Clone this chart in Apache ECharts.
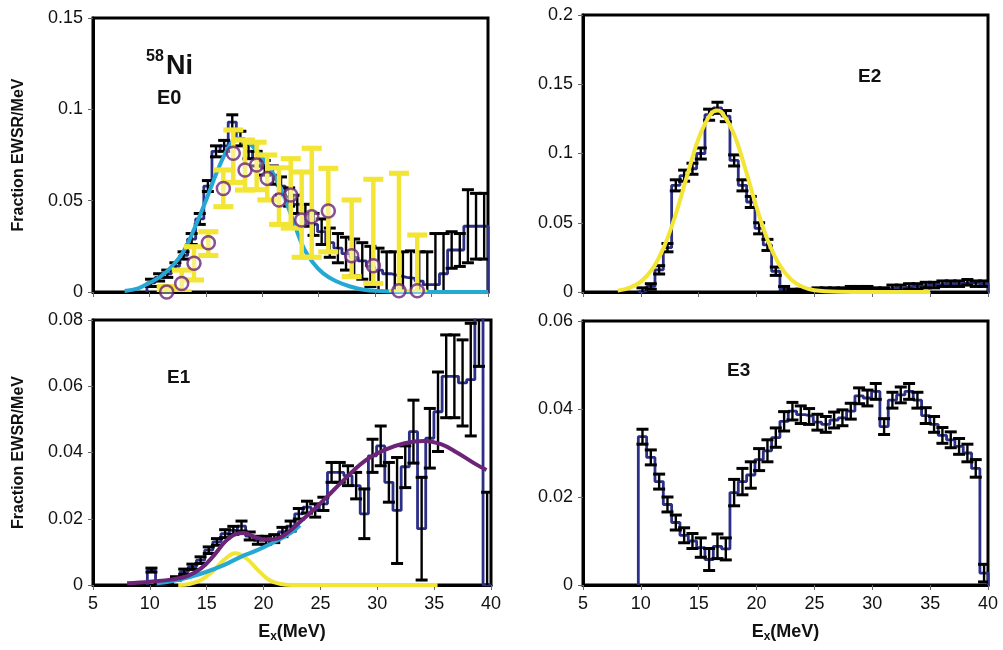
<!DOCTYPE html>
<html>
<head>
<meta charset="utf-8">
<script src="https://cdn.jsdelivr.net/npm/echarts@6/dist/echarts.min.js"></script>
<style>html,body{margin:0;padding:0;background:#fff}#main{width:1003px;height:650px}</style>
</head>
<body>
<div id="main"></div>
<script>
var chart = echarts.init(document.getElementById('main'));

// bin centres (MeV), shared by all four multipoles
var binWidth = 0.72;
var binCenters = [10.14, 10.86, 11.58, 12.30, 13.02, 13.74, 14.46, 15.18, 15.90, 16.62,
  17.34, 18.06, 18.78, 19.50, 20.22, 20.94, 21.66, 22.38, 23.10, 23.82,
  24.54, 25.26, 25.98, 26.70, 27.42, 28.14, 28.86, 29.58, 30.30, 31.02,
  31.74, 32.46, 33.18, 33.90, 34.62, 35.34, 36.06, 36.78, 37.50, 38.22,
  38.94, 39.66];

// E0
var e0Vals = [0.005, 0.008, 0.010, 0.014, 0.020, 0.029, 0.040, 0.058, 0.077, 0.080,
  0.093, 0.084, 0.077, 0.073, 0.068, 0.064, 0.058, 0.052, 0.048, 0.042,
  0.037, 0.033, 0.027, 0.024, 0.021, 0.019, 0.017, 0.014, 0.012, 0.010,
  0.009, 0.008, 0.0075, 0.006, 0.004, 0.004, 0.010, 0.023, 0.023, 0.036,
  0.036, 0.036];
var e0Errs = [0.002, 0.002, 0.002, 0.002, 0.002, 0.003, 0.003, 0.003, 0.003, 0.003,
  0.004, 0.004, 0.004, 0.004, 0.004, 0.005, 0.005, 0.005, 0.005, 0.006,
  0.006, 0.007, 0.008, 0.008, 0.009, 0.010, 0.010, 0.011, 0.012, 0.012,
  0.013, 0.014, 0.015, 0.016, 0.018, 0.028, 0.022, 0.010, 0.009, 0.020,
  0.018, 0.018];
// second E0 data set (yellow bars, open circles)
var e0bE = [11.53, 12.86, 13.95, 15.22, 16.55, 17.43, 18.47, 19.50, 20.44, 21.48,
  22.52, 23.49, 24.38, 25.85, 27.92, 29.84, 32.11, 33.73];
var e0bVals = [0.000, 0.0047, 0.0157, 0.027, 0.0567, 0.076, 0.0668, 0.0695, 0.0622, 0.0504,
  0.0531, 0.0394, 0.0412, 0.0443, 0.0199, 0.0144, 0.0007, 0.0007];
var e0bLow = [0.000, 0.000, 0.0066, 0.020, 0.0467, 0.060, 0.0558, 0.056, 0.0504, 0.037,
  0.035, 0.019, 0.019, 0.022, 0.0084, 0.0047, 0.000, 0.000];
var e0bHigh = [0.003, 0.012, 0.0248, 0.033, 0.0668, 0.0887, 0.0832, 0.082, 0.075, 0.068,
  0.073, 0.0657, 0.0787, 0.0677, 0.0504, 0.0617, 0.065, 0.0312];
var e0FitE = [7.8, 9, 10, 11, 12, 13, 14, 15, 16, 17, 17.8, 18.5, 19.5, 20.5, 21.3,
  22.5, 23.6, 24.5, 25.4, 26.5, 27.8, 29, 30.4, 32, 35, 40];
var e0Fit = [0.0005, 0.002, 0.005, 0.0085, 0.014, 0.022, 0.035, 0.050, 0.066, 0.079, 0.084,
  0.083, 0.0775, 0.069, 0.061, 0.043, 0.025, 0.016, 0.0102, 0.006, 0.003, 0.0012,
  0.0005, 0.0001, 0, 0];

// E2
var e2Vals = [0.001, 0.004, 0.016, 0.032, 0.077, 0.084, 0.089, 0.100, 0.128, 0.133,
  0.127, 0.095, 0.077, 0.065, 0.046, 0.034, 0.015, 0.002, 0.001, 0.001,
  0.001, 0.002, 0.002, 0.002, 0.002, 0.003, 0.003, 0.003, 0.002, 0.002,
  0.003, 0.003, 0.004, 0.004, 0.005, 0.005, 0.006, 0.006, 0.006, 0.007,
  0.006, 0.006];
var e2Errs = [0.002, 0.002, 0.003, 0.003, 0.004, 0.004, 0.004, 0.004, 0.004, 0.004,
  0.004, 0.004, 0.004, 0.004, 0.004, 0.004, 0.003, 0.002, 0.001, 0.001,
  0.001, 0.001, 0.001, 0.001, 0.001, 0.001, 0.001, 0.001, 0.001, 0.001,
  0.002, 0.002, 0.002, 0.002, 0.002, 0.002, 0.002, 0.002, 0.002, 0.002,
  0.002, 0.002];
var e2FitE = [8, 9, 10, 11, 12, 13, 14, 15, 16, 16.6, 17, 18, 19, 20, 21, 22, 23, 24, 25, 27, 30, 35];
var e2Fit = [0.001, 0.003, 0.0075, 0.0167, 0.0326, 0.0558, 0.084, 0.111, 0.128, 0.131,
  0.1296, 0.115, 0.0897, 0.0612, 0.0367, 0.0193, 0.0088, 0.0036, 0.0013, 0.0002, 0, 0];

// E1
var e1Vals = [0.0045, 0.0003, 0.0005, 0.002, 0.004, 0.0055, 0.0075, 0.0105, 0.013, 0.0155,
  0.0165, 0.0178, 0.0148, 0.0135, 0.0135, 0.014, 0.016, 0.0178, 0.0215, 0.0235,
  0.0225, 0.0245, 0.034, 0.034, 0.033, 0.030, 0.0215, 0.039, 0.042, 0.031,
  0.0225, 0.0357, 0.0463, 0.017, 0.0443, 0.0523, 0.063, 0.063, 0.061, 0.062,
  0.095, 0.0];
var e1Errs = [0.0006, 0.0003, 0.0003, 0.0005, 0.0008, 0.0008, 0.001, 0.001, 0.001, 0.0012,
  0.0012, 0.0015, 0.0012, 0.0012, 0.0012, 0.0012, 0.0014, 0.0015, 0.0016, 0.0018,
  0.002, 0.002, 0.003, 0.003, 0.003, 0.004, 0.0075, 0.005, 0.006, 0.006,
  0.016, 0.0063, 0.0095, 0.0155, 0.009, 0.012, 0.0125, 0.0125, 0.013, 0.017,
  0.029, 0.028];
var e1TotE = [8, 10, 12, 13.3, 14.5, 15.6, 16.6, 17.5, 18.3, 19.2, 20.2, 21.2, 22.2, 23.2,
  24.5, 25.6, 27, 28.8, 30.6, 32.4, 34.1, 35.6, 37, 38.5, 39.6];
var e1Tot = [0.0005, 0.001, 0.0017, 0.0027, 0.005, 0.0088, 0.013, 0.0153, 0.0157, 0.0145,
  0.0137, 0.014, 0.016, 0.019, 0.023, 0.0267, 0.0315, 0.0372, 0.0407, 0.0428, 0.0435,
  0.0425, 0.040, 0.0368, 0.0347];
var e1BroadE = [10.6, 12, 13.6, 15, 16.5, 18, 19.5, 21.3, 22.5, 23.2];
var e1Broad = [0.0005, 0.0012, 0.0025, 0.004, 0.006, 0.0085, 0.0106, 0.0136, 0.016, 0.018];
var e1PeakE = [12.5, 13.5, 14.5, 15.5, 16.5, 17.5, 18.5, 19.5, 20.5, 21.5, 22.5, 35.3];
var e1Peak = [0, 0.0003, 0.0015, 0.004, 0.0075, 0.0096, 0.008, 0.0045, 0.0015, 0.0003, 0, 0];

// E3
var e3Vals = [0.0337, 0.029, 0.0235, 0.0183, 0.0142, 0.0113, 0.010, 0.0085, 0.0058, 0.0088,
  0.0082, 0.021, 0.0235, 0.025, 0.0285, 0.0305, 0.0335, 0.0372, 0.0395, 0.0387,
  0.0383, 0.037, 0.0365, 0.0375, 0.038, 0.0395, 0.043, 0.0425, 0.044, 0.036,
  0.042, 0.0432, 0.044, 0.042, 0.0385, 0.0365, 0.034, 0.033, 0.0315, 0.030,
  0.0265, 0.0027];
var e3Errs = [0.0017, 0.0017, 0.0017, 0.0017, 0.0017, 0.0017, 0.0017, 0.0022, 0.0025, 0.0028,
  0.0025, 0.003, 0.003, 0.003, 0.0025, 0.0025, 0.0022, 0.0022, 0.002, 0.002,
  0.0018, 0.0018, 0.0018, 0.0018, 0.0018, 0.0018, 0.0018, 0.0018, 0.0018, 0.0018,
  0.0018, 0.0018, 0.0018, 0.0018, 0.0018, 0.0018, 0.0018, 0.0018, 0.0018, 0.002,
  0.002, 0.002];

var navy = '#2b2f86', cyan = '#25a8d4', yellow = '#f3e535', purple = '#6c2477';
var tickFont = 'Liberation Sans';

function histData(vals) {
  var d = [[binCenters[0] - binWidth / 2, 0]];
  binCenters.forEach(function (c, i) {
    d.push([c - binWidth / 2, vals[i]], [c + binWidth / 2, vals[i]]);
  });
  d.push([binCenters[binCenters.length - 1] + binWidth / 2, 0]);
  return d;
}
function pairs(xs, ys) {
  return xs.map(function (x, i) { return [x, ys[i]]; });
}

function histSeries(idx, vals) {
  return {
    type: 'line', xAxisIndex: idx, yAxisIndex: idx, data: histData(vals),
    symbol: 'none', z: 2, animation: false,
    lineStyle: { color: navy, width: 2.8 }
  };
}
function errSeries(idx, xs, lows, highs, color, lw, cap, z) {
  return {
    type: 'custom', xAxisIndex: idx, yAxisIndex: idx, clip: true, z: z || 3, animation: false,
    data: xs.map(function (x, i) { return [x, lows[i], highs[i]]; }),
    encode: { x: 0, y: [1, 2] },
    renderItem: function (params, api) {
      var lo = api.coord([api.value(0), api.value(1)]);
      var hi = api.coord([api.value(0), api.value(2)]);
      var st = { stroke: color, lineWidth: lw };
      var capSt = { stroke: color, lineWidth: lw + 0.6 };
      return {
        type: 'group', children: [
          { type: 'line', shape: { x1: lo[0], y1: lo[1], x2: hi[0], y2: hi[1] }, style: st },
          { type: 'line', shape: { x1: lo[0] - cap, y1: lo[1], x2: lo[0] + cap, y2: lo[1] }, style: capSt },
          { type: 'line', shape: { x1: hi[0] - cap, y1: hi[1], x2: hi[0] + cap, y2: hi[1] }, style: capSt }
        ]
      };
    }
  };
}
function blackErr(idx, vals, errs) {
  return errSeries(idx, binCenters,
    vals.map(function (v, i) { return v - errs[i]; }),
    vals.map(function (v, i) { return v + errs[i]; }), '#000', 2.4, 6, 3);
}
function curve(idx, xs, ys, color, z) {
  return {
    type: 'line', xAxisIndex: idx, yAxisIndex: idx, data: pairs(xs, ys), smooth: 0.4,
    symbol: 'none', z: z, animation: false, lineStyle: { color: color, width: 4 }
  };
}

var grids = [
  { left: 93, top: 18, width: 395, height: 274 },
  { left: 583, top: 15, width: 405, height: 277 },
  { left: 93, top: 320, width: 398, height: 265 },
  { left: 583, top: 321, width: 405, height: 264 }
].map(function (g) {
  return Object.assign({ show: true, borderColor: '#000', borderWidth: 3, outerBoundsMode: 'none' }, g);
});

var yMax = [0.15, 0.2, 0.08, 0.06], yStep = [0.05, 0.05, 0.02, 0.02];

var xAxes = [0, 1, 2, 3].map(function (i) {
  var bottom = i >= 2;
  return {
    type: 'value', gridIndex: i, min: 5, max: 40, interval: 5,
    axisLine: { show: true, lineStyle: { color: '#000', width: 3 } },
    axisTick: { show: true, length: 5, lineStyle: { color: '#666', width: 1 } },
    axisLabel: { show: bottom, margin: 10, color: '#111', fontSize: 18, fontFamily: tickFont },
    splitLine: { show: false },
    name: bottom ? '{a|E}{b|x}{a|(MeV)}' : '',
    nameLocation: 'middle', nameGap: 36,
    nameTextStyle: {
      rich: {
        a: { fontSize: 18, fontWeight: 'bold', fontFamily: 'Liberation Sans', color: '#111' },
        b: { fontSize: 12, fontWeight: 'bold', fontFamily: 'Liberation Sans', color: '#111', padding: [10, 0, 0, 0] }
      }
    }
  };
});
var yAxes = [0, 1, 2, 3].map(function (i) {
  var left = (i === 0 || i === 2);
  return {
    type: 'value', gridIndex: i, min: 0, max: yMax[i], interval: yStep[i],
    axisLine: { show: true, lineStyle: { color: '#000', width: 3 } },
    axisTick: { show: true, length: 5, lineStyle: { color: '#666', width: 1 } },
    axisLabel: { margin: 10, color: '#111', fontSize: 18, fontFamily: tickFont },
    splitLine: { show: false },
    name: left ? 'Fraction EWSR/MeV' : '',
    nameLocation: 'middle', nameGap: 66,
    nameTextStyle: { fontSize: 16, fontWeight: 'bold', fontFamily: 'Liberation Sans', color: '#111' }
  };
});

var series = [
  // E0
  histSeries(0, e0Vals),
  blackErr(0, e0Vals, e0Errs),
  curve(0, e0FitE, e0Fit, cyan, 4),
  errSeries(0, e0bE, e0bLow, e0bHigh, yellow, 4.5, 10, 5),
  {
    type: 'scatter', xAxisIndex: 0, yAxisIndex: 0, data: pairs(e0bE, e0bVals), z: 6,
    symbol: 'circle', symbolSize: 13, animation: false, clip: false,
    itemStyle: { color: 'rgba(255,255,255,0.5)', borderColor: purple, borderWidth: 2.5 }
  },
  // E2
  histSeries(1, e2Vals),
  blackErr(1, e2Vals, e2Errs),
  curve(1, e2FitE, e2Fit, yellow, 5),
  // E1
  histSeries(2, e1Vals),
  blackErr(2, e1Vals, e1Errs),
  curve(2, e1PeakE, e1Peak, yellow, 4),
  curve(2, e1BroadE, e1Broad, cyan, 4),
  curve(2, e1TotE, e1Tot, purple, 5),
  // E3
  histSeries(3, e3Vals),
  blackErr(3, e3Vals, e3Errs)
];

function label(text, x, y, size) {
  return {
    type: 'text', x: x, y: y, z: 100,
    style: { text: text, font: 'bold ' + size + 'px "Liberation Sans"', fill: '#111',
      align: 'left', verticalAlign: 'middle', textAlign: 'left', textVerticalAlign: 'middle' }
  };
}

var option = {
  backgroundColor: '#fff',
  animation: false,
  grid: grids,
  xAxis: xAxes,
  yAxis: yAxes,
  series: series,
  graphic: [
    label('58', 146, 57, 16),
    label('Ni', 166, 67, 27),
    label('E0', 157, 98, 20),
    label('E2', 858, 77, 19),
    label('E1', 167, 378, 19),
    label('E3', 727, 371, 19)
  ]
};
chart.setOption(option);
</script>
</body>
</html>
